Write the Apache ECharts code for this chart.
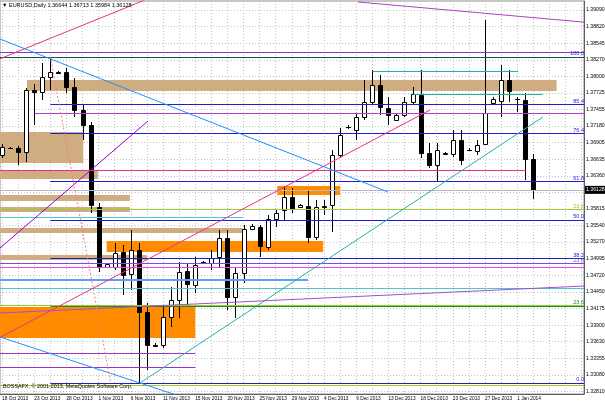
<!DOCTYPE html>
<html><head><meta charset="utf-8">
<script src="https://cdn.jsdelivr.net/npm/echarts@6/dist/echarts.min.js"></script>
<style>html,body{margin:0;padding:0;background:#fff;overflow:hidden}#c{width:605px;height:403px}</style>
</head><body><div id="c"></div>
<script>
// ---------------- data ----------------
const symbolName = 'EURUSD,Daily';
const copyrightText = 'BOSSAFX, \u00a9 2001-2013, MetaQuotes Software Corp.';

// daily bars (index 0 = 18 Oct 2013 ... 66 = 3 Jan 2014)
const opens  = [1.3670,1.3682,1.3682,1.3675,1.3777,1.3774,1.3799,1.3807,1.3807,1.3782,1.3744,1.3720,1.3585,1.3486,1.3486,1.3511,1.3475,1.3514,1.3412,1.3358,1.3357,1.3403,1.3431,1.3479,1.3456,1.3494,1.3492,1.3502,1.3533,1.3436,1.3476,1.3548,1.3552,1.3519,1.3565,1.3580,1.3601,1.3585,1.3586,1.3535,1.3586,1.3588,1.3670,1.3716,1.3711,1.3733,1.3758,1.3786,1.3748,1.3728,1.3736,1.3758,1.3769,1.3674,1.3654,1.3672,1.3672,1.3695,1.3679,1.3677,1.3688,1.3756,1.3759,1.3794,1.3763,1.3761,1.36644];
const highs  = [1.3688,1.3683,1.3685,1.3781,1.3787,1.3822,1.3832,1.3809,1.3814,1.3797,1.3753,1.3725,1.3592,1.3493,1.3525,1.3522,1.3547,1.3525,1.3427,1.3361,1.3420,1.3453,1.3494,1.3493,1.3502,1.3496,1.3514,1.3547,1.3547,1.3484,1.3555,1.3556,1.3555,1.3571,1.3580,1.3618,1.3616,1.3590,1.3613,1.3596,1.3596,1.3678,1.3715,1.3719,1.3739,1.3794,1.3810,1.3802,1.3766,1.3738,1.3766,1.3782,1.3810,1.3690,1.3690,1.3675,1.3711,1.3711,1.3682,1.3695,1.3893,1.3766,1.3818,1.3810,1.3766,1.3772,1.36713];
const lows   = [1.3665,1.3680,1.3654,1.3659,1.3720,1.3761,1.3777,1.3803,1.3772,1.3733,1.3695,1.3575,1.3478,1.3484,1.3481,1.3440,1.3448,1.3295,1.3316,1.3354,1.3352,1.3387,1.3402,1.3420,1.3443,1.3491,1.3481,1.3486,1.3415,1.3402,1.3460,1.3547,1.3502,1.3514,1.3552,1.3563,1.3575,1.3583,1.3525,1.3530,1.3572,1.3544,1.3667,1.3713,1.3695,1.3728,1.3754,1.3736,1.3720,1.3727,1.3733,1.3754,1.3665,1.3649,1.3626,1.3670,1.3667,1.3654,1.3676,1.3670,1.3687,1.3753,1.3733,1.3758,1.3741,1.3629,1.35984];
const closes = [1.3683,1.3681,1.3675,1.3777,1.3774,1.3799,1.3807,1.3806,1.3782,1.3744,1.3720,1.3588,1.3486,1.3491,1.3509,1.3473,1.3514,1.3412,1.3357,1.3356,1.3403,1.3431,1.3478,1.3458,1.3489,1.3493,1.3500,1.3533,1.3436,1.3476,1.3548,1.3553,1.3520,1.3565,1.3575,1.3601,1.3581,1.3588,1.3535,1.3585,1.3585,1.3670,1.3703,1.3717,1.3733,1.3758,1.3786,1.3749,1.3736,1.3736,1.3758,1.3771,1.3674,1.3654,1.3679,1.3673,1.3695,1.3662,1.3678,1.3687,1.3739,1.3763,1.3794,1.3776,1.3762,1.3664,1.36128];

// time axis labels (bar index -> text)
const dateLabelBars = [0,4,8,12,16,20,24,28,32,36,40,44,48,52,56,60,64];
const dateLabels = ['18 Oct 2013','23 Oct 2013','28 Oct 2013','1 Nov 2013','6 Nov 2013','11 Nov 2013','15 Nov 2013','20 Nov 2013','25 Nov 2013','29 Nov 2013','4 Dec 2013','9 Dec 2013','13 Dec 2013','18 Dec 2013','23 Dec 2013','27 Dec 2013','1 Jan 2014'];

// price scale ticks
const priceTicks = [1.39090,1.38820,1.38545,1.38270,1.38000,1.37725,1.37455,1.37180,1.36905,1.36635,1.36360,1.36085,1.35815,1.35540,1.35270,1.34995,1.34720,1.34450,1.34175,1.33900,1.33630,1.33355,1.33080,1.32810];
const priceLabels = [1.39090,1.38820,1.38545,1.38270,1.38000,1.37725,1.37455,1.37180,1.36905,1.36635,1.36360,1.35815,1.35540,1.35270,1.34995,1.34720,1.34450,1.34175,1.33900,1.33630,1.33355,1.33080,1.32810];

// Fibonacci retracement (levels and their prices), drawn from the swing high bar
const fiboStartBar = 6;
const fiboLevels = ['0.0','23.6','38.2','50.0','61.8','76.4','85.4','100.0'];
const fiboPrices = [1.32950,1.34217,1.35001,1.35635,1.36269,1.37053,1.37536,1.38320];
const fiboSwing = [[6,1.3832],[13.5,1.3295]];

// horizontal lines: [price, fromBar, toBar, kind, text]
const hLines = [
  [1.38390,-0.25,72.3,'violet',''],
  [1.38320,-0.25,72.3,'darkGreen',''],
  [1.38086,46,64.1,'teal',''],
  [1.37707,51.1,67.2,'teal',''],
  [1.37394,4.1,72.3,'orchid',''],
  [1.36455,-0.25,65.1,'pink',''],
  [1.35813,-0.25,72.3,'lime','23.6'],
  [1.35682,-0.25,29.9,'cyan',''],
  [1.34924,-0.25,72.3,'indigo','23.6'],
  [1.34858,-0.25,72.3,'magenta',''],
  [1.34644,-0.25,38,'cornflower',''],
  [1.34512,-0.25,72.3,'cyan',''],
  [1.34224,-0.25,72.3,'lime',''],
  [1.33442,-0.25,24,'violet',''],
  [1.33212,-0.25,24,'violet',''],
  [1.32907,-0.25,72.3,'lime','']
];

// trend lines: [[bar, price], [bar, price], kind]
const trendLines = [
  [[-0.25,1.38287],[17.76,1.39255],'pink'],
  [[-0.25,1.33699],[53.17,1.37443],'pink'],
  [[-0.25,1.38612],[47.95,1.36093],'dodger'],
  [[-0.25,1.33706],[22,1.32736],'dodger'],
  [[-0.25,1.35171],[18.14,1.37262],'purple'],
  [[17.14,1.32948],[67.2,1.37328],'teal'],
  [[44.2,1.39222],[72.3,1.38890],'orchid2'],
  [[-0.25,1.34101],[72.3,1.34545],'violetIncl']
];

// rectangles: [fromBar, toBar, priceTop, priceBottom, kind]
const rects = [
  [3.1,68.9,1.37937,1.37756,'tan'],
  [-0.25,10.1,1.37081,1.36571,'tan'],
  [-0.25,11.9,1.36455,1.36307,'tan'],
  [-0.25,15.9,1.36044,1.35945,'tan'],
  [-0.25,15.9,1.35846,1.35764,'tan'],
  [-0.25,29.9,1.35499,1.35416,'tan'],
  [-0.25,18,1.35055,1.34973,'tan'],
  [-0.25,24,1.34200,1.33689,'orange'],
  [13,39.9,1.35286,1.35105,'orange'],
  [34.2,42,1.36192,1.36044,'orange']
];

// ---------------- styles ----------------
const COLORS = {
  violet:'#9932CC', darkGreen:'#00604A', teal:'#20B2AA', orchid:'#B040D0', pink:'#E8308C',
  lime:'#9ACD32', cyan:'#48C8D0', indigo:'#7050E0', magenta:'#F040F0', cornflower:'#5FA0F0',
  dodger:'#1E90FF', purple:'#9400D3', orchid2:'#B040C8', violetIncl:'#A050C8',
  tan:'#CFAD80', orange:'#FF8C00', fibo:'#1E1ECF', fiboGreen:'#228B22', bid:'#B8B8C8'
};
const WIDTHS = { cornflower: 2 };
const FONT = '"Liberation Sans", Arial, sans-serif';
const X_MIN = -0.25, X_MAX = 72.3, Y_MIN = 1.32767, Y_MAX = 1.39238;

// ---------------- build ----------------
const candleData = opens.map((o, i) => [i, o, closes[i], lows[i], highs[i]]);
const gridBars = [];
for (let b = 0; b <= 72; b += 2) gridBars.push(b);
const last = opens.length - 1;
const fmt = v => Number(v).toFixed(5);

const hMark = [];
fiboPrices.forEach((p, i) => {
  const col = fiboLevels[i] === '23.6' ? COLORS.fiboGreen : COLORS.fibo;
  hMark.push([{coord:[fiboStartBar, p], lineStyle:{color:col, width:1, type:'solid'},
    label:{show:true, formatter:fiboLevels[i], position:'insideEndTop', distance:[0,0], color:col, fontSize:5.5, fontFamily:FONT}},
    {coord:[X_MAX, p]}]);
});
hLines.forEach(h => {
  const col = COLORS[h[3]];
  hMark.push([{coord:[h[1], h[0]], lineStyle:{color:col, width:WIDTHS[h[3]] || 1, type:'solid'},
    label:{show:!!h[4], formatter:h[4], position:'insideEndTop', distance:[0,0], color:col, fontSize:5.5, fontFamily:FONT}},
    {coord:[h[2], h[0]]}]);
});
// bid line with price box
hMark.push([{coord:[X_MIN, closes[last]], lineStyle:{color:COLORS.bid, width:1, type:'solid'},
  label:{show:true, formatter:fmt(closes[last]), position:'end', distance:1, color:'#fff', backgroundColor:'#000',
    fontSize:5.2, fontFamily:FONT, padding:[2,2,1,1]}},
  {coord:[X_MAX, closes[last]]}]);

const areaData = rects.map(r => [
  {coord:[r[0], r[2]], itemStyle:{color:COLORS[r[4]], opacity:1}},
  {coord:[r[1], r[3]]}
]);

const series = [];
series.push({
  type:'line', data:[], z:1, silent:true,
  markArea:{silent:true, animation:false, label:{show:false}, data:areaData}
});
series.push({
  type:'custom', z:3, silent:true, clip:true,
  data:candleData,
  encode:{x:0, y:[1,2,3,4]},
  renderItem:function(params, api){
    const k = api.value(0), o = api.value(1), c = api.value(2), l = api.value(3), h = api.value(4);
    const pO = api.coord([k,o]), pC = api.coord([k,c]), pL = api.coord([k,l]), pH = api.coord([k,h]);
    const cx = Math.round(pO[0]) + 0.5;
    const top = Math.round(Math.min(pO[1], pC[1])), bot = Math.round(Math.max(pO[1], pC[1]));
    const children = [{type:'line', shape:{x1:cx, y1:Math.round(pH[1]), x2:cx, y2:Math.round(pL[1])}, style:{stroke:'#000', lineWidth:1}}];
    if (bot - top < 1) {
      children.push({type:'line', shape:{x1:cx-2.5, y1:top+0.5, x2:cx+2.5, y2:top+0.5}, style:{stroke:'#000', lineWidth:1}});
    } else {
      children.push({type:'rect', shape:{x:cx-2, y:top+0.5, width:4, height:bot-top}, style:{fill:c>=o?'#fff':'#000', stroke:'#000', lineWidth:1}});
    }
    return {type:'group', children:children};
  }
});
series.push({
  type:'line', data:[], z:4, silent:true,
  markLine:{silent:true, animation:false, symbol:['none','none'], label:{show:false}, data:hMark}
});
trendLines.forEach(t => {
  series.push({type:'line', z:5, silent:true, clip:true, showSymbol:false, symbol:'none',
    data:[t[0], t[1]], lineStyle:{color:COLORS[t[2]], width:1}, animation:false});
});
series.push({type:'line', z:5, silent:true, clip:true, showSymbol:false, symbol:'none',
  data:fiboSwing, lineStyle:{color:'#F08070', width:1, type:[2,2]}, animation:false});

const option = {
  animation:false,
  backgroundColor:'#fff',
  title:[
    {text:'\u25BC ' + symbolName + ' ' + [opens[last],highs[last],lows[last],closes[last]].map(fmt).join(' '),
      left:2, top:2, padding:0, textStyle:{fontSize:5.5, fontWeight:'normal', color:'#000', fontFamily:FONT}},
    {text:copyrightText, left:3, top:384, padding:0, textStyle:{fontSize:5.4, fontWeight:'normal', color:'#000', fontFamily:FONT}}
  ],
  grid:{left:0, right:21, top:1, bottom:9, show:true, borderColor:'#909090', borderWidth:1, outerBoundsMode:'none', containLabel:false},
  xAxis:{
    type:'value', min:X_MIN, max:X_MAX, position:'bottom',
    axisLine:{show:true, onZero:false, lineStyle:{color:'#606060', width:1}},
    axisTick:{show:false, customValues:gridBars},
    axisLabel:{show:true, customValues:dateLabelBars, align:'left', margin:2, fontSize:4.8, color:'#000', fontFamily:FONT,
      hideOverlap:false, showMinLabel:true, showMaxLabel:true,
      formatter:function(v){ const i = dateLabelBars.indexOf(Math.round(v)); return i >= 0 ? dateLabels[i] : ''; }},
    splitLine:{show:true, lineStyle:{color:'#C4C4C4', type:[1,2], width:1}}
  },
  yAxis:{
    type:'value', min:Y_MIN, max:Y_MAX, position:'right', scale:true,
    axisLine:{show:true, onZero:false, lineStyle:{color:'#606060', width:1}},
    axisTick:{show:false, customValues:priceTicks},
    axisLabel:{show:true, customValues:priceLabels, margin:2, fontSize:5.2, color:'#000', fontFamily:FONT,
      hideOverlap:false, formatter:function(v){return fmt(v);}},
    splitLine:{show:true, lineStyle:{color:'#C4C4C4', type:[1,2], width:1}}
  },
  series:series
};
const chart = echarts.init(document.getElementById('c'));
chart.setOption(option);
</script>
</body></html>
